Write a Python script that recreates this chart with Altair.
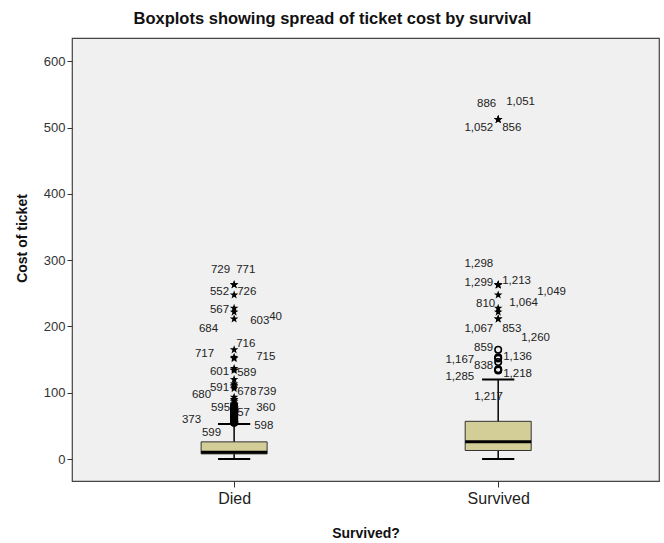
import altair as alt
import pandas as pd

# ---- summary statistics per group ----
groups = ["Died", "Survived"]
q1 = [7.9, 13.0]
median = [10.5, 26.0]
q3 = [26.0, 57.0]
whisker_low = [0.0, 0.0]
whisker_high = [53.1, 120.0]

# ---- outliers (circles: > 1.5 IQR, stars: > 3 IQR) ----
died_circles = [79.7, 79.2, 78.9, 78.0, 76.7, 75.3, 73.5, 71.3, 71.0, 69.6, 69.3,
                66.6, 65.0, 63.4, 62.0, 61.2, 59.4, 57.8, 57.0, 56.9, 56.5, 55.9,
                55.4, 55.0]
died_stars = [263.0, 263.0, 247.5, 227.5, 221.8, 211.5, 164.9, 153.5, 151.6,
              136.8, 134.5, 133.7, 120.0, 113.3, 110.9, 108.9, 106.4, 93.5, 90.0,
              89.1, 86.5, 83.5, 82.3, 81.9]
survived_circles = [164.9, 153.5, 151.6, 146.5, 135.6, 134.5, 133.7]
survived_stars = [512.3, 512.3, 512.3, 263.0, 263.0, 262.4, 247.5, 227.5, 221.8,
                  211.5, 211.3]

# ---- case-number labels ----
died_labels = ["729", "771", "552", "726", "567", "603", "40", "684", "716", "717",
               "715", "601", "589", "591", "678", "739", "680", "595", "57", "360",
               "373", "598", "599"]
died_label_values = [285, 285, 252, 252, 225, 208, 214, 196, 173, 158, 154, 131,
                     130, 107, 101, 101, 96, 77, 69, 77, 59, 50, 39]
survived_labels = ["886", "1,051", "1,052", "856", "1,298", "1,299", "1,213",
                   "1,049", "810", "1,064", "1,067", "853", "1,260", "859", "1,167",
                   "1,136", "838", "1,285", "1,218", "1,217"]
survived_label_values = [535, 538, 499, 499, 294, 265, 268, 252, 234, 235, 196,
                         196, 182, 167, 149, 154, 140, 124, 128, 93]

# label placement: horizontal shift from the box centre (px) and text anchor side
died_label_dx = [-4, 2, -5, 3, -5, 16, 35, -16, 2, -20, 22, -5, 3, -5, 3, 23, -23,
                 -4, 3, 22, -33, 20, -13]
died_label_align = ["right", "left", "right", "left", "right", "left", "left",
                    "right", "left", "right", "left", "right", "left", "right",
                    "left", "left", "right", "right", "left", "left", "right",
                    "left", "right"]
survived_label_dx = [-2, 8, -5, 4, -5, -5, 4, 39, -3, 11, -5, 4, 23, -5, -24, 5, -5,
                     -24, 5, -24]
survived_label_align = ["right", "left", "right", "left", "right", "right", "left",
                        "left", "right", "left", "right", "left", "left", "right",
                        "right", "left", "right", "right", "left", "left"]

FONT = "Liberation Sans"
PLOT_W, PLOT_H = 587, 443
STEP = 264.0                      # px between the two category centres
X_DOMAIN = [-0.614, 1.609]
BOX_HALF = 0.125
CAP_HALF = 0.061

boxes = pd.DataFrame({
    "group": groups, "idx": [0, 1], "q1": q1, "median": median, "q3": q3,
    "lo": whisker_low, "hi": whisker_high,
})
boxes["bx"] = boxes["idx"] - BOX_HALF
boxes["bx2"] = boxes["idx"] + BOX_HALF
boxes["cx"] = boxes["idx"] - CAP_HALF
boxes["cx2"] = boxes["idx"] + CAP_HALF

circles = pd.DataFrame({
    "idx": [0] * len(died_circles) + [1] * len(survived_circles),
    "value": died_circles + survived_circles,
})
stars = pd.DataFrame({
    "idx": [0] * len(died_stars) + [1] * len(survived_stars),
    "value": died_stars + survived_stars,
})
labels = pd.DataFrame({
    "idx": [0] * len(died_labels) + [1] * len(survived_labels),
    "text": died_labels + survived_labels,
    "value": died_label_values + survived_label_values,
    "dx": died_label_dx + survived_label_dx,
    "align": died_label_align + survived_label_align,
})
labels["lx"] = labels["idx"] + labels["dx"] / STEP

xs = alt.Scale(domain=X_DOMAIN, nice=False, zero=False)
ys = alt.Scale(domain=[-33, 635], nice=False, zero=False)

x_axis = alt.Axis(
    values=[0, 1], labelExpr="datum.value == 0 ? 'Died' : 'Survived'",
    title="Survived?", grid=False, domain=False, tickSize=6, tickColor="#333333",
    labelFont=FONT, labelFontSize=16, labelColor="#222222", labelPadding=3,
    titleFont=FONT, titleFontSize=14, titleFontWeight="bold", titleColor="#111111",
    titleBaseline="middle", titleY=52,
)
y_axis = alt.Axis(
    values=[0, 100, 200, 300, 400, 500, 600], title="Cost of ticket", grid=False,
    domain=False, tickSize=5, tickColor="#333333", labelFont=FONT, labelFontSize=13,
    labelColor="#333333", labelPadding=2, titleFont=FONT, titleFontSize=14,
    titleFontWeight="bold", titleColor="#111111", titleAngle=-90,
    titleAlign="center", titleBaseline="middle", titleX=-50, titleY=200,
)

base_box = alt.Chart(boxes)

whisker = base_box.mark_rule(color="#000000", strokeWidth=1.5).encode(
    x=alt.X("idx:Q", scale=xs, axis=x_axis),
    y=alt.Y("lo:Q", scale=ys, axis=y_axis),
    y2="hi:Q",
)
cap_low = base_box.mark_rule(color="#000000", strokeWidth=2).encode(
    x=alt.X("cx:Q", scale=xs), x2="cx2:Q", y=alt.Y("lo:Q", scale=ys),
)
cap_high = base_box.mark_rule(color="#000000", strokeWidth=2).encode(
    x=alt.X("cx:Q", scale=xs), x2="cx2:Q", y=alt.Y("hi:Q", scale=ys),
)
box = base_box.mark_rect(fill="#D3CE98", stroke="#333333", strokeWidth=1).encode(
    x=alt.X("bx:Q", scale=xs), x2="bx2:Q",
    y=alt.Y("q1:Q", scale=ys), y2="q3:Q",
)
med = base_box.mark_rule(color="#000000", strokeWidth=3).encode(
    x=alt.X("bx:Q", scale=xs), x2="bx2:Q", y=alt.Y("median:Q", scale=ys),
)

text_layers = []
for side in ["left", "right"]:
    text_layers.append(
        alt.Chart(labels[labels["align"] == side]).mark_text(
            align=side, baseline="middle", font=FONT, fontSize=11.5, color="#222222",
        ).encode(
            x=alt.X("lx:Q", scale=xs), y=alt.Y("value:Q", scale=ys), text="text:N",
        )
    )

circle_pts = alt.Chart(circles).mark_point(
    shape="circle", filled=False, color="#000000", size=42, strokeWidth=1.6, opacity=1,
).encode(x=alt.X("idx:Q", scale=xs), y=alt.Y("value:Q", scale=ys))

STAR = ("M0,-1L0.24,-0.33L0.95,-0.31L0.38,0.12L0.59,0.81L0,0.4L-0.59,0.81"
        "L-0.38,0.12L-0.95,-0.31L-0.24,-0.33Z")
star_pts = alt.Chart(stars).mark_point(
    shape=STAR, filled=True, color="#000000", size=80, opacity=1,
).encode(x=alt.X("idx:Q", scale=xs), y=alt.Y("value:Q", scale=ys))

chart = alt.layer(
    whisker, cap_low, cap_high, box, med, *text_layers, circle_pts, star_pts,
).properties(
    width=PLOT_W,
    height=PLOT_H,
    title=alt.TitleParams(
        "Boxplots showing spread of ticket cost by survival", font=FONT,
        fontSize=16.5, fontWeight="bold", color="#111111", anchor="middle",
        offset=11, dx=-33,
    ),
    autosize=alt.AutoSizeParams(type="none"),
    padding={"left": 72, "top": 38, "right": 5, "bottom": 62},
    background="#FFFFFF",
).configure_view(
    fill="#F0F0F0", stroke="#444444", strokeWidth=1.2,
)

chart.save("out.html", embed_options={"renderer": "svg", "actions": False})
